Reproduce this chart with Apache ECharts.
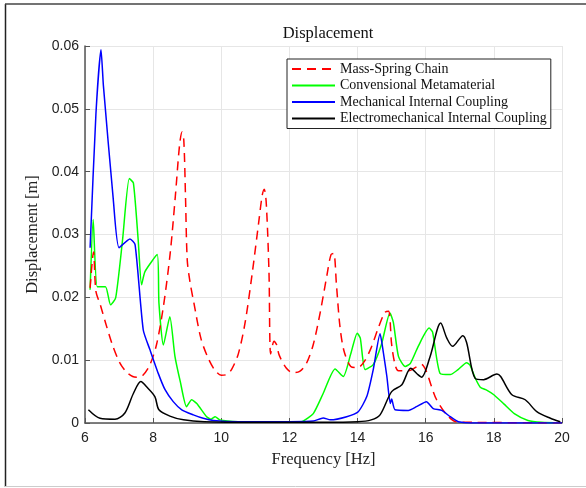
<!DOCTYPE html>
<html>
<head>
<meta charset="utf-8">
<script src="https://cdn.jsdelivr.net/npm/echarts@6/dist/echarts.min.js"></script>
<style>
  html, body { margin: 0; padding: 0; background: #fff; }
  #main { width: 586px; height: 488px; }
</style>
</head>
<body>
<div id="main"></div>
<script>
// tick labels
var xTicks = ['6', '8', '10', '12', '14', '16', '18', '20'];
var yTicks = ['0', '0.01', '0.02', '0.03', '0.04', '0.05', '0.06'];

var seriesNames = ['Mass-Spring Chain', 'Convensional Metamaterial', 'Mechanical Internal Coupling', 'Electromechanical Internal Coupling'];

// Mass-Spring Chain
var msFreq = [6.15, 6.25, 6.32, 6.45, 6.6, 6.8, 7.0, 7.2, 7.4, 7.55, 7.7, 7.9, 8.1, 8.3, 8.5, 8.65, 8.78, 8.85, 8.9, 8.95, 9.0, 9.08, 9.2, 9.4, 9.6, 9.8, 10.0, 10.15, 10.3, 10.5, 10.7, 10.9, 11.1, 11.2, 11.26, 11.32, 11.4, 11.45, 11.55, 11.62, 11.7, 11.9, 12.1, 12.3, 12.5, 12.7, 12.9, 13.1, 13.22, 13.3, 13.38, 13.48, 13.6, 13.8, 14.0, 14.2, 14.4, 14.6, 14.8, 14.91, 15.0, 15.1, 15.2, 15.5, 15.75, 15.88, 16.02, 16.17, 16.32, 16.62, 16.9, 17.5, 20];
var msDisp = [0.0215, 0.0272, 0.021, 0.0188, 0.016, 0.0125, 0.0098, 0.0082, 0.0074, 0.0073, 0.0076, 0.0092, 0.0125, 0.0185, 0.027, 0.036, 0.0445, 0.0463, 0.045, 0.036, 0.026, 0.0225, 0.019, 0.0135, 0.0105, 0.0085, 0.0076, 0.0077, 0.0085, 0.011, 0.016, 0.0235, 0.032, 0.0362, 0.0372, 0.035, 0.024, 0.011, 0.013, 0.0125, 0.0108, 0.0088, 0.008, 0.0082, 0.0095, 0.0125, 0.0175, 0.0235, 0.0268, 0.027, 0.022, 0.0155, 0.0115, 0.009, 0.0088, 0.0098, 0.012, 0.015, 0.0176, 0.0178, 0.0125, 0.0093, 0.0083, 0.0083, 0.009, 0.0093, 0.0082, 0.0058, 0.0037, 0.0013, 0.0002, 0.0001, 0];

// Convensional Metamaterial
var cmFreq = [6.15, 6.24, 6.36, 6.6, 6.75, 6.9, 7.1, 7.3, 7.42, 7.56, 7.66, 7.76, 8.12, 8.17, 8.3, 8.49, 8.64, 8.8, 8.98, 9.13, 9.28, 9.57, 9.7, 9.82, 9.96, 10.5, 11.5, 12.2, 12.4, 12.7, 12.99, 13.34, 13.58, 13.8, 13.99, 14.08, 14.22, 14.46, 14.7, 14.95, 15.05, 15.2, 15.4, 15.55, 15.78, 16.1, 16.2, 16.42, 16.72, 16.95, 17.2, 17.3, 17.45, 17.6, 17.8, 18.0, 18.3, 18.6, 19.0, 19.4, 20];
var cmDisp = [0.0212, 0.0324, 0.0217, 0.0217, 0.0188, 0.0199, 0.029, 0.0389, 0.0382, 0.0292, 0.022, 0.0241, 0.0268, 0.0191, 0.0124, 0.0169, 0.0106, 0.0065, 0.0026, 0.0037, 0.0031, 0.001, 0.0006, 0.001, 0.0005, 0.0002, 0.0001, 0.0001, 0.0003, 0.0015, 0.0047, 0.0086, 0.0074, 0.011, 0.0143, 0.0135, 0.0085, 0.0093, 0.0125, 0.0175, 0.016, 0.0106, 0.009, 0.0095, 0.0122, 0.0151, 0.0145, 0.0079, 0.0077, 0.0085, 0.0096, 0.0092, 0.0072, 0.0057, 0.0052, 0.0045, 0.003, 0.0015, 0.0004, 0.0001, 0];

// Mechanical Internal Coupling
var micFreq = [6.15, 6.32, 6.47, 6.54, 6.83, 7.0, 7.32, 7.47, 7.71, 7.91, 8.15, 8.35, 8.59, 8.84, 9.18, 9.47, 9.77, 10.5, 12.0, 12.7, 12.99, 13.2, 13.68, 14.02, 14.27, 14.46, 14.66, 14.76, 14.86, 14.96, 15.0, 15.1, 15.49, 15.73, 16.02, 16.22, 16.47, 16.72, 16.96, 17.5, 20];
var micDisp = [0.0279, 0.0491, 0.0594, 0.0537, 0.0356, 0.0279, 0.0293, 0.0284, 0.0148, 0.0116, 0.0079, 0.0053, 0.0034, 0.0021, 0.0013, 0.00075, 0.0004, 0.0002, 0.0002, 0.0003, 0.0008, 0.0005, 0.001, 0.0018, 0.0042, 0.0085, 0.0142, 0.0111, 0.0074, 0.0031, 0.0038, 0.0021, 0.002, 0.0026, 0.0034, 0.0023, 0.002, 0.001, 0.0002, 0, 0];

// Electromechanical Internal Coupling
var emFreq = [6.1, 6.44, 6.88, 7.17, 7.42, 7.64, 7.8, 8.05, 8.17, 8.49, 8.89, 9.5, 11.0, 13.0, 14.0, 14.4, 14.66, 15.0, 15.3, 15.56, 15.75, 15.88, 16.13, 16.44, 16.62, 16.79, 17.09, 17.2, 17.45, 17.7, 18.09, 18.2, 18.53, 18.92, 19.26, 19.66, 19.95];
var emDisp = [0.0021, 0.00075, 0.0006, 0.0016, 0.0047, 0.0066, 0.0058, 0.0042, 0.0021, 0.0011, 0.0005, 0.0002, 0.0001, 0.0001, 0.0002, 0.0005, 0.0013, 0.005, 0.0061, 0.0087, 0.0078, 0.0073, 0.0106, 0.0159, 0.0135, 0.0122, 0.0139, 0.0128, 0.0071, 0.0069, 0.0078, 0.0074, 0.0045, 0.0037, 0.0018, 0.00075, 0.0002];

function zip(f, d) {
    var out = [];
    for (var i = 0; i < f.length; i++) out.push([f[i], d[i]]);
    return out;
}

var serif = '"Liberation Serif", "DejaVu Serif", serif';
var sans = '"Liberation Sans", Arial, sans-serif';

var chart = echarts.init(document.getElementById('main'));

var option = {
    backgroundColor: '#fff',
    animation: false,
    title: {
        text: 'Displacement',
        left: 323,
        top: 20,
        textAlign: 'center',
        textStyle: { fontFamily: serif, fontWeight: 'normal', fontSize: 16.5, color: '#111' }
    },
    legend: {
        data: seriesNames,
        orient: 'vertical',
        left: 287,
        top: 59,
        padding: [3, 4, 3, 4],
        itemWidth: 43,
        itemHeight: 14,
        itemGap: 2.5,
        borderColor: '#222',
        borderWidth: 1,
        backgroundColor: '#fff',
        borderRadius: 0,
        itemStyle: { opacity: 0 },
        textStyle: { fontFamily: serif, fontSize: 14, lineHeight: 14, color: '#111' }
    },
    grid: { left: 85, right: 24, top: 46, bottom: 65, containLabel: false },
    xAxis: {
        type: 'value',
        min: 6, max: 20, interval: 2,
        name: 'Frequency [Hz]',
        nameLocation: 'middle',
        nameGap: 28,
        nameTextStyle: { fontFamily: serif, fontSize: 16.5, color: '#222' },
        axisLine: { show: true, onZero: false, lineStyle: { color: '#555', width: 1.5 } },
        axisTick: { show: true, inside: true, length: 5, lineStyle: { color: '#555' } },
        axisLabel: {
            fontFamily: sans, fontSize: 14, color: '#222', margin: 8,
            formatter: function (v) { return xTicks[Math.round((v - 6) / 2)]; }
        },
        splitLine: { show: true, lineStyle: { color: '#e6e6e6', width: 1 } }
    },
    yAxis: {
        type: 'value',
        min: 0, max: 0.06, interval: 0.01,
        name: 'Displacement [m]',
        nameLocation: 'middle',
        nameGap: 34,
        nameTextStyle: { fontFamily: serif, fontSize: 16.5, color: '#222' },
        axisLine: { show: true, lineStyle: { color: '#555', width: 1.5 } },
        axisTick: { show: true, inside: true, length: 5, lineStyle: { color: '#555' } },
        axisLabel: {
            fontFamily: sans, fontSize: 14, color: '#222', margin: 6,
            formatter: function (v) { return yTicks[Math.round(v * 100)]; }
        },
        splitLine: { show: true, lineStyle: { color: '#e6e6e6', width: 1 } }
    },
    graphic: [
        { type: 'line', shape: { x1: 5.5, y1: 4, x2: 5.5, y2: 487 }, style: { stroke: '#222', lineWidth: 1.5 }, silent: true },
        { type: 'line', shape: { x1: 5, y1: 4, x2: 586, y2: 4 }, style: { stroke: '#444', lineWidth: 1.5 }, silent: true },
        { type: 'line', shape: { x1: 5, y1: 486.5, x2: 586, y2: 486.5 }, style: { stroke: '#ccc', lineWidth: 1 }, silent: true }
    ],
    series: [
        {
            name: seriesNames[0], type: 'line', data: zip(msFreq, msDisp),
            symbol: 'none', smooth: 0.3, z: 3,
            lineStyle: { color: '#ff0000', width: 1.5, type: [9, 6] },
            itemStyle: { color: '#ff0000' }
        },
        {
            name: seriesNames[1], type: 'line', data: zip(cmFreq, cmDisp),
            symbol: 'none', smooth: 0.2, z: 2,
            lineStyle: { color: '#00ff00', width: 1.5 },
            itemStyle: { color: '#00ff00' }
        },
        {
            name: seriesNames[2], type: 'line', data: zip(micFreq, micDisp),
            symbol: 'none', smooth: 0.2, z: 4,
            lineStyle: { color: '#0000ff', width: 1.5 },
            itemStyle: { color: '#0000ff' }
        },
        {
            name: seriesNames[3], type: 'line', data: zip(emFreq, emDisp),
            symbol: 'none', smooth: 0.3, z: 5,
            lineStyle: { color: '#000000', width: 1.5 },
            itemStyle: { color: '#000000' }
        }
    ]
};

chart.setOption(option);
</script>
</body>
</html>
